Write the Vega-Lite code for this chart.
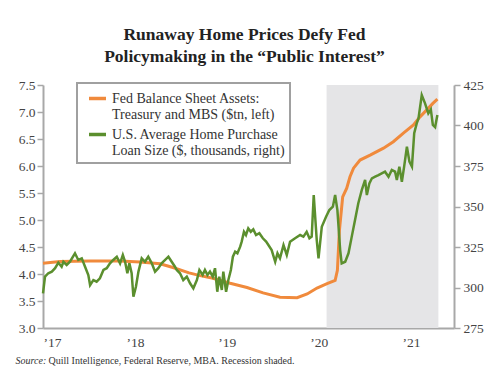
{
  "$schema": "https://vega.github.io/schema/vega-lite/v6.json",
  "width": 411,
  "height": 243,
  "autosize": {"type": "none"},
  "padding": {"left": 43, "top": 85, "right": 45, "bottom": 43},
  "background": "white",
  "title": {
    "text": ["Runaway Home Prices Defy Fed", "Policymaking in the “Public Interest”"],
    "font": "Liberation Serif",
    "fontSize": 17.5,
    "fontWeight": "bold",
    "color": "#222222",
    "lineHeight": 22,
    "anchor": "middle",
    "dx": -4,
    "offset": 13
  },
  "config": {
    "view": {"stroke": null},
    "axis": {
      "labelFont": "Liberation Serif",
      "labelFontSize": 13.5,
      "labelColor": "#444444",
      "domainColor": "#a8a8a8",
      "domainWidth": 2,
      "tickColor": "#a8a8a8",
      "tickWidth": 1.5,
      "grid": false
    }
  },
  "datasets": {
    "series": [
      {"s":"fed","d":"2017-01-01","v":4.20},
      {"s":"fed","d":"2017-03-10","v":4.23},
      {"s":"fed","d":"2017-07-07","v":4.24},
      {"s":"fed","d":"2017-11-03","v":4.24},
      {"s":"fed","d":"2018-01-21","v":4.22},
      {"s":"fed","d":"2018-04-11","v":4.19},
      {"s":"fed","d":"2018-06-01","v":4.12},
      {"s":"fed","d":"2018-08-04","v":4.02},
      {"s":"fed","d":"2018-09-17","v":3.97},
      {"s":"fed","d":"2018-11-07","v":3.92},
      {"s":"fed","d":"2019-01-14","v":3.83},
      {"s":"fed","d":"2019-03-22","v":3.75},
      {"s":"fed","d":"2019-05-25","v":3.65},
      {"s":"fed","d":"2019-07-31","v":3.57},
      {"s":"fed","d":"2019-10-07","v":3.56},
      {"s":"fed","d":"2019-11-16","v":3.63},
      {"s":"fed","d":"2019-12-25","v":3.74},
      {"s":"fed","d":"2020-02-03","v":3.82},
      {"s":"fed","d":"2020-03-06","v":3.88},
      {"s":"fed","d":"2020-03-15","v":4.07},
      {"s":"fed","d":"2020-03-23","v":4.81},
      {"s":"fed","d":"2020-04-05","v":5.43},
      {"s":"fed","d":"2020-04-21","v":5.59},
      {"s":"fed","d":"2020-05-04","v":5.80},
      {"s":"fed","d":"2020-05-18","v":5.96},
      {"s":"fed","d":"2020-06-13","v":6.11},
      {"s":"fed","d":"2020-07-23","v":6.20},
      {"s":"fed","d":"2020-09-14","v":6.33},
      {"s":"fed","d":"2020-10-23","v":6.45},
      {"s":"fed","d":"2020-12-02","v":6.61},
      {"s":"fed","d":"2021-01-11","v":6.76},
      {"s":"fed","d":"2021-02-06","v":6.91},
      {"s":"fed","d":"2021-03-05","v":7.04},
      {"s":"fed","d":"2021-03-29","v":7.16},
      {"s":"fed","d":"2021-04-16","v":7.24},
      {"s":"loan","d":"2017-01-01","v":296.4},
      {"s":"loan","d":"2017-01-09","v":306.7},
      {"s":"loan","d":"2017-01-22","v":308.8},
      {"s":"loan","d":"2017-02-05","v":309.8},
      {"s":"loan","d":"2017-02-18","v":311.9},
      {"s":"loan","d":"2017-03-03","v":315.3},
      {"s":"loan","d":"2017-03-16","v":312.8},
      {"s":"loan","d":"2017-03-23","v":315.9},
      {"s":"loan","d":"2017-04-05","v":313.9},
      {"s":"loan","d":"2017-04-18","v":315.9},
      {"s":"loan","d":"2017-05-08","v":321.1},
      {"s":"loan","d":"2017-05-21","v":317.0},
      {"s":"loan","d":"2017-06-04","v":318.0},
      {"s":"loan","d":"2017-06-17","v":312.8},
      {"s":"loan","d":"2017-06-30","v":307.7},
      {"s":"loan","d":"2017-07-07","v":301.5},
      {"s":"loan","d":"2017-07-20","v":304.6},
      {"s":"loan","d":"2017-08-02","v":303.6},
      {"s":"loan","d":"2017-08-15","v":305.7},
      {"s":"loan","d":"2017-08-29","v":310.8},
      {"s":"loan","d":"2017-09-11","v":311.9},
      {"s":"loan","d":"2017-09-24","v":314.9},
      {"s":"loan","d":"2017-10-07","v":317.0},
      {"s":"loan","d":"2017-10-21","v":319.0},
      {"s":"loan","d":"2017-11-03","v":314.9},
      {"s":"loan","d":"2017-11-14","v":320.1},
      {"s":"loan","d":"2017-11-23","v":315.9},
      {"s":"loan","d":"2017-12-02","v":308.8},
      {"s":"loan","d":"2017-12-10","v":314.9},
      {"s":"loan","d":"2017-12-19","v":308.8},
      {"s":"loan","d":"2017-12-26","v":294.3},
      {"s":"loan","d":"2018-01-05","v":300.5},
      {"s":"loan","d":"2018-01-15","v":309.8},
      {"s":"loan","d":"2018-01-28","v":318.0},
      {"s":"loan","d":"2018-02-10","v":315.9},
      {"s":"loan","d":"2018-02-23","v":319.0},
      {"s":"loan","d":"2018-03-09","v":314.9},
      {"s":"loan","d":"2018-03-22","v":309.8},
      {"s":"loan","d":"2018-04-04","v":311.9},
      {"s":"loan","d":"2018-04-17","v":314.9},
      {"s":"loan","d":"2018-05-01","v":317.0},
      {"s":"loan","d":"2018-05-14","v":319.0},
      {"s":"loan","d":"2018-05-27","v":315.9},
      {"s":"loan","d":"2018-06-09","v":312.8},
      {"s":"loan","d":"2018-06-16","v":310.8},
      {"s":"loan","d":"2018-06-29","v":308.8},
      {"s":"loan","d":"2018-07-12","v":304.6},
      {"s":"loan","d":"2018-07-26","v":306.7},
      {"s":"loan","d":"2018-08-08","v":302.6},
      {"s":"loan","d":"2018-08-21","v":299.5},
      {"s":"loan","d":"2018-09-04","v":304.6},
      {"s":"loan","d":"2018-09-14","v":310.8},
      {"s":"loan","d":"2018-09-27","v":307.7},
      {"s":"loan","d":"2018-10-06","v":310.8},
      {"s":"loan","d":"2018-10-16","v":307.7},
      {"s":"loan","d":"2018-10-26","v":309.8},
      {"s":"loan","d":"2018-11-06","v":306.7},
      {"s":"loan","d":"2018-11-15","v":311.9},
      {"s":"loan","d":"2018-11-24","v":297.4},
      {"s":"loan","d":"2018-12-02","v":306.7},
      {"s":"loan","d":"2018-12-12","v":298.5},
      {"s":"loan","d":"2018-12-18","v":309.8},
      {"s":"loan","d":"2018-12-29","v":297.4},
      {"s":"loan","d":"2019-01-07","v":304.6},
      {"s":"loan","d":"2019-01-17","v":310.8},
      {"s":"loan","d":"2019-01-25","v":319.0},
      {"s":"loan","d":"2019-02-03","v":322.1},
      {"s":"loan","d":"2019-02-12","v":321.1},
      {"s":"loan","d":"2019-02-23","v":325.2},
      {"s":"loan","d":"2019-03-01","v":328.3},
      {"s":"loan","d":"2019-03-10","v":334.4},
      {"s":"loan","d":"2019-03-18","v":332.4},
      {"s":"loan","d":"2019-03-27","v":336.5},
      {"s":"loan","d":"2019-04-06","v":334.4},
      {"s":"loan","d":"2019-04-16","v":335.9},
      {"s":"loan","d":"2019-04-27","v":332.4},
      {"s":"loan","d":"2019-05-10","v":333.5},
      {"s":"loan","d":"2019-05-24","v":330.4},
      {"s":"loan","d":"2019-06-06","v":328.3},
      {"s":"loan","d":"2019-06-15","v":326.2},
      {"s":"loan","d":"2019-06-28","v":323.1},
      {"s":"loan","d":"2019-07-12","v":315.9},
      {"s":"loan","d":"2019-07-21","v":321.1},
      {"s":"loan","d":"2019-07-31","v":318.0},
      {"s":"loan","d":"2019-08-14","v":326.2},
      {"s":"loan","d":"2019-08-27","v":320.1},
      {"s":"loan","d":"2019-09-09","v":328.3},
      {"s":"loan","d":"2019-09-29","v":330.4},
      {"s":"loan","d":"2019-10-19","v":332.4},
      {"s":"loan","d":"2019-11-01","v":331.4},
      {"s":"loan","d":"2019-11-14","v":334.4},
      {"s":"loan","d":"2019-11-25","v":330.4},
      {"s":"loan","d":"2019-12-04","v":331.4},
      {"s":"loan","d":"2019-12-12","v":357.1},
      {"s":"loan","d":"2019-12-24","v":329.3},
      {"s":"loan","d":"2019-12-31","v":318.0},
      {"s":"loan","d":"2020-01-13","v":337.5},
      {"s":"loan","d":"2020-01-30","v":343.7},
      {"s":"loan","d":"2020-02-12","v":347.8},
      {"s":"loan","d":"2020-02-26","v":349.9},
      {"s":"loan","d":"2020-03-06","v":357.1},
      {"s":"loan","d":"2020-03-15","v":347.8},
      {"s":"loan","d":"2020-03-26","v":323.1},
      {"s":"loan","d":"2020-04-01","v":314.9},
      {"s":"loan","d":"2020-04-15","v":315.9},
      {"s":"loan","d":"2020-04-28","v":321.1},
      {"s":"loan","d":"2020-05-11","v":331.4},
      {"s":"loan","d":"2020-05-24","v":341.7},
      {"s":"loan","d":"2020-06-06","v":352.0},
      {"s":"loan","d":"2020-06-20","v":360.2},
      {"s":"loan","d":"2020-07-03","v":366.4},
      {"s":"loan","d":"2020-07-10","v":357.1},
      {"s":"loan","d":"2020-07-20","v":364.3},
      {"s":"loan","d":"2020-07-30","v":367.4},
      {"s":"loan","d":"2020-08-12","v":368.4},
      {"s":"loan","d":"2020-08-25","v":369.4},
      {"s":"loan","d":"2020-09-07","v":370.5},
      {"s":"loan","d":"2020-09-20","v":371.5},
      {"s":"loan","d":"2020-10-04","v":368.4},
      {"s":"loan","d":"2020-10-17","v":372.5},
      {"s":"loan","d":"2020-10-30","v":371.5},
      {"s":"loan","d":"2020-11-06","v":366.4},
      {"s":"loan","d":"2020-11-16","v":374.6},
      {"s":"loan","d":"2020-11-26","v":365.3},
      {"s":"loan","d":"2020-12-05","v":374.6},
      {"s":"loan","d":"2020-12-16","v":386.9},
      {"s":"loan","d":"2020-12-26","v":377.7},
      {"s":"loan","d":"2021-01-05","v":374.6},
      {"s":"loan","d":"2021-01-14","v":395.2},
      {"s":"loan","d":"2021-01-24","v":401.3},
      {"s":"loan","d":"2021-01-31","v":404.4},
      {"s":"loan","d":"2021-02-13","v":418.8},
      {"s":"loan","d":"2021-02-26","v":413.7},
      {"s":"loan","d":"2021-03-11","v":407.5},
      {"s":"loan","d":"2021-03-21","v":409.9},
      {"s":"loan","d":"2021-03-29","v":400.3},
      {"s":"loan","d":"2021-04-07","v":398.9},
      {"s":"loan","d":"2021-04-16","v":406.5}
    ],
    "recession": [
      {"start": "2020-02-01", "end": "2021-04-20"}
    ]
  },
  "layer": [
    {
      "data": {"name": "recession"},
      "mark": {"type": "rect", "fill": "#e5e5e7"},
      "encoding": {
        "x": {
          "field": "start", "type": "temporal",
          "scale": {"domain": [{"year": 2017, "month": 1, "date": 1}, {"year": 2021, "month": 6, "date": 21}]},
          "axis": {
            "orient": "top", "domain": false, "ticks": false, "labels": false,
            "title": "Source:", "titleFont": "Liberation Serif", "titleFontStyle": "italic",
            "titleFontWeight": "normal", "titleFontSize": 10, "titleColor": "#333333",
            "titleAnchor": "start", "titleAlign": "left", "titleBaseline": "alphabetic",
            "titleX": -28, "titleY": 278
          }
        },
        "x2": {"field": "end"}
      }
    },
    {
      "data": {"name": "series"},
      "transform": [{"filter": "datum.s == 'fed'"}],
      "mark": {"type": "line", "strokeWidth": 3, "interpolate": "linear"},
      "encoding": {
        "x": {
          "field": "d", "type": "temporal",
          "axis": {
            "orient": "bottom", "format": "’%y", "ticks": false, "labelPadding": 7,
            "tickCount": {"interval": "year", "step": 1},
            "title": "Quill Intelligence, Federal Reserve, MBA. Recession shaded.",
            "titleFont": "Liberation Serif", "titleFontWeight": "normal", "titleFontSize": 10,
            "titleColor": "#333333", "titleAnchor": "start", "titleAlign": "left",
            "titleBaseline": "alphabetic", "titleX": 5, "titleY": 35
          }
        },
        "y": {
          "field": "v", "type": "quantitative",
          "scale": {"domain": [3, 7.5], "nice": false, "zero": false},
          "axis": {"orient": "left", "values": [3, 3.5, 4, 4.5, 5, 5.5, 6, 6.5, 7, 7.5], "format": ".1f", "title": null, "tickSize": 6, "labelPadding": 2}
        },
        "color": {
          "field": "s", "type": "nominal",
          "scale": {"domain": ["fed", "loan"], "range": ["#f08a3c", "#5b8f2e"]},
          "legend": {
            "orient": "none", "legendX": 34, "legendY": -2, "title": null,
            "symbolType": "stroke", "symbolSize": 289, "symbolStrokeWidth": 3.5,
            "symbolOffset": 5,
            "labelFont": "Liberation Serif", "labelFontSize": 14, "labelColor": "#333333",
            "labelLineHeight": 16, "labelLimit": 300, "labelOffset": 4,
            "labelExpr": "datum.value == 'fed' ? ['Fed Balance Sheet Assets:', 'Treasury and MBS ($tn, left)'] : ['U.S. Average Home Purchase', 'Loan Size ($, thousands, right)']",
            "rowPadding": 2, "padding": 5,
            "strokeColor": "#a0a0a0", "fillColor": "white",
            "encode": {"legend": {"update": {"strokeWidth": {"value": 2}}}}
          }
        }
      }
    },
    {
      "data": {"name": "series"},
      "transform": [{"filter": "datum.s == 'loan'"}],
      "mark": {"type": "line", "strokeWidth": 2.5, "interpolate": "linear"},
      "encoding": {
        "x": {"field": "d", "type": "temporal", "axis": null},
        "y": {
          "field": "v", "type": "quantitative",
          "scale": {"domain": [275, 425], "nice": false, "zero": false},
          "axis": {"orient": "right", "values": [275, 300, 325, 350, 375, 400, 425], "title": null, "tickSize": 6, "labelPadding": 3}
        },
        "color": {"field": "s", "type": "nominal"}
      }
    }
  ],
  "resolve": {"scale": {"y": "independent"}, "axis": {"x": "independent"}}
}
